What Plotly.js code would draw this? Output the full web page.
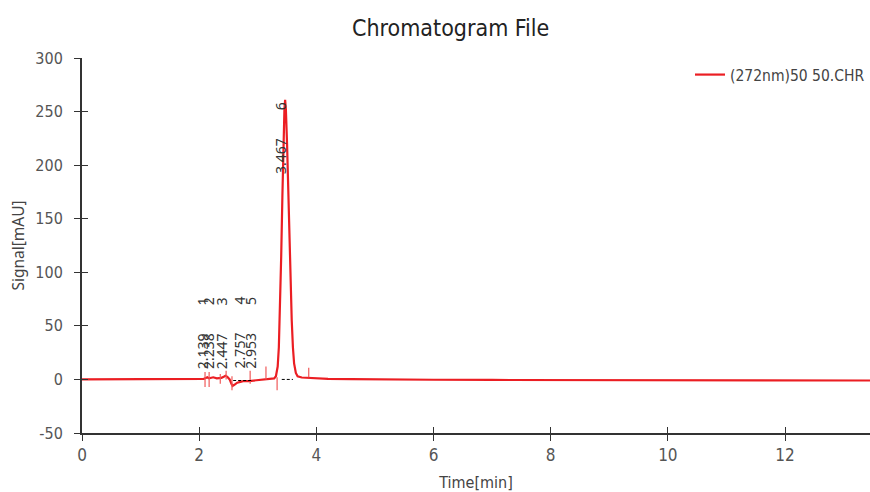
<!DOCTYPE html>
<html>
<head>
<meta charset="utf-8">
<script src="https://cdn.plot.ly/plotly-3.0.1.min.js"></script>
<style>html,body{margin:0;padding:0;background:#fff;}#chart{width:870px;height:492px;}</style>
</head>
<body>
<div id="chart"></div>
<script>
// Chromatogram signal (time in min, signal in mAU)
var time = [0, 0.5, 1.0, 1.5, 1.9, 2.0, 2.08, 2.12, 2.14, 2.17, 2.20, 2.24, 2.30, 2.38, 2.42, 2.45, 2.48, 2.52, 2.55, 2.57, 2.60, 2.65, 2.72, 2.76, 2.85, 2.95, 3.05, 3.20, 3.28, 3.31, 3.34, 3.36, 3.38, 3.40, 3.42, 3.44, 3.455, 3.467, 3.48, 3.50, 3.52, 3.54, 3.56, 3.58, 3.60, 3.62, 3.65, 3.68, 3.75, 3.9, 4.2, 4.6, 5, 6, 7, 8, 9, 10, 11, 12, 13, 13.45];
var signal = [0, 0, 0.2, 0.2, 0.3, 0.4, 0.6, 1.5, 2, 1, 1.5, 2, 1, 1.5, 2.5, 3.5, 2.5, 0, -4, -6, -5, -3, -2, -1.5, -1.5, -1, -0.5, 0, 1, 3, 12, 30, 65, 115, 170, 225, 252, 261, 252, 220, 175, 130, 88, 55, 30, 15, 6, 3, 1.8, 1.2, 0.6, 0.3, 0, -0.3, -0.5, -0.6, -0.7, -0.8, -0.9, -1, -1, -1];

// Y tick labels
var yTickVals = [-50, 0, 50, 100, 150, 200, 250, 300];
var yTickText = ['-50', '0', '50', '100', '150', '200', '250', '300'];

// Peak annotations
var peakTimes = [2.139, 2.238, 2.447, 2.757, 2.953, 3.467];
var peakIds = ['1', '2', '3', '4', '5', '6'];
var labelBase = [8, 8, 8, 8, 8, 190];

// Integration markers (vertical ticks)
var markerTimes = [2.10, 2.17, 2.36, 2.46, 2.56, 2.87, 3.14, 3.33, 3.87];
var markerLo = [-7, -7, -4, 0, -10, -4, 0, -10, 2];
var markerHi = [7, 7, 5, 8, 3, 8, 12, 2, 11];

// Dashed baselines
var baseStart = [2.58, 3.41];
var baseEnd = [2.90, 3.60];
var baseVal = [-1, 0];

var mx = [], my = [];
for (var i = 0; i < markerTimes.length; i++) {
  mx.push(markerTimes[i], markerTimes[i], null);
  my.push(markerLo[i], markerHi[i], null);
}
var bx = [], by = [];
for (var j = 0; j < baseStart.length; j++) {
  bx.push(baseStart[j], baseEnd[j], null);
  by.push(baseVal[j], baseVal[j], null);
}

var red = 'rgb(235,30,35)';
var traces = [
  {x: time, y: signal, type: 'scatter', mode: 'lines', name: '(272nm)50 50.CHR',
   line: {color: red, width: 2.2}},
  {x: mx, y: my, type: 'scatter', mode: 'lines', showlegend: false, hoverinfo: 'skip',
   line: {color: 'rgb(240,90,90)', width: 1.2}},
  {x: bx, y: by, type: 'scatter', mode: 'lines', showlegend: false, hoverinfo: 'skip',
   line: {color: '#000', width: 1, dash: '3px,2px'}},
  {x: time, y: signal, type: 'scatter', mode: 'lines', xaxis: 'x2', yaxis: 'y2',
   showlegend: false, hoverinfo: 'skip', opacity: 0, line: {width: 0}}
];

var hFont = 'DejaVu Sans Condensed, Noto Sans, sans-serif';
var vFont = 'Noto Sans, sans-serif';

var annotations = peakTimes.map(function (t, k) {
  return {x: t, y: labelBase[k], xref: 'x', yref: 'y', text: t.toFixed(3) + '\u2003\u2003' + peakIds[k],
          showarrow: false, textangle: -90, xanchor: 'center', yanchor: 'bottom', xshift: -4,
          font: {family: vFont, size: 14, color: '#333'}};
});

var layout = {
  width: 870, height: 492,
  margin: {l: 82, r: 0, t: 58, b: 59},
  paper_bgcolor: '#fff', plot_bgcolor: '#fff',
  title: {text: 'Chromatogram File', x: 0.518, xref: 'container', xanchor: 'center', y: 0.943, yref: 'container', yanchor: 'middle',
          font: {family: hFont, size: 23, color: '#222'}},
  showlegend: true,
  legend: {x: 1, xanchor: 'right', y: 1, yanchor: 'top', bgcolor: 'rgba(0,0,0,0)',
           font: {family: hFont, size: 15.5, color: '#444'}},
  xaxis: {range: [0, 13.45], dtick: 2, tick0: 0, showgrid: false, zeroline: false,
          showline: true, linecolor: '#333', linewidth: 2, ticks: 'outside', ticklen: 6, tickcolor: '#333', tickwidth: 1,
          tickfont: {family: hFont, size: 17, color: '#555'},
          title: {text: 'Time[min]', standoff: 12, font: {family: hFont, size: 16, color: '#444'}}},
  yaxis: {range: [-50, 300], tickmode: 'array', tickvals: yTickVals, ticktext: yTickText, showgrid: false, zeroline: false,
          showline: true, linecolor: '#333', linewidth: 2, ticks: 'outside', ticklen: 6, tickcolor: '#333', tickwidth: 1,
          ticklabelstandoff: 8,
          tickfont: {family: hFont, size: 16, color: '#555'},
          title: {text: 'Signal[mAU]', standoff: 7, font: {family: vFont, size: 15.5, color: '#444'}}},
  xaxis2: {overlaying: 'x', matches: 'x', anchor: 'y2', side: 'bottom', showgrid: false, zeroline: false,
           showline: false, ticks: 'inside', ticklen: 6, tickcolor: '#333', tickwidth: 1, showticklabels: false, dtick: 2, tick0: 0},
  yaxis2: {overlaying: 'y', matches: 'y', anchor: 'x2', side: 'left', showgrid: false, zeroline: false,
           showline: false, ticks: 'inside', ticklen: 6, tickcolor: '#333', tickwidth: 1, showticklabels: false,
           tickmode: 'array', tickvals: yTickVals},
  annotations: annotations
};

Plotly.newPlot('chart', traces, layout, {displayModeBar: false, staticPlot: true});
</script>
</body>
</html>
